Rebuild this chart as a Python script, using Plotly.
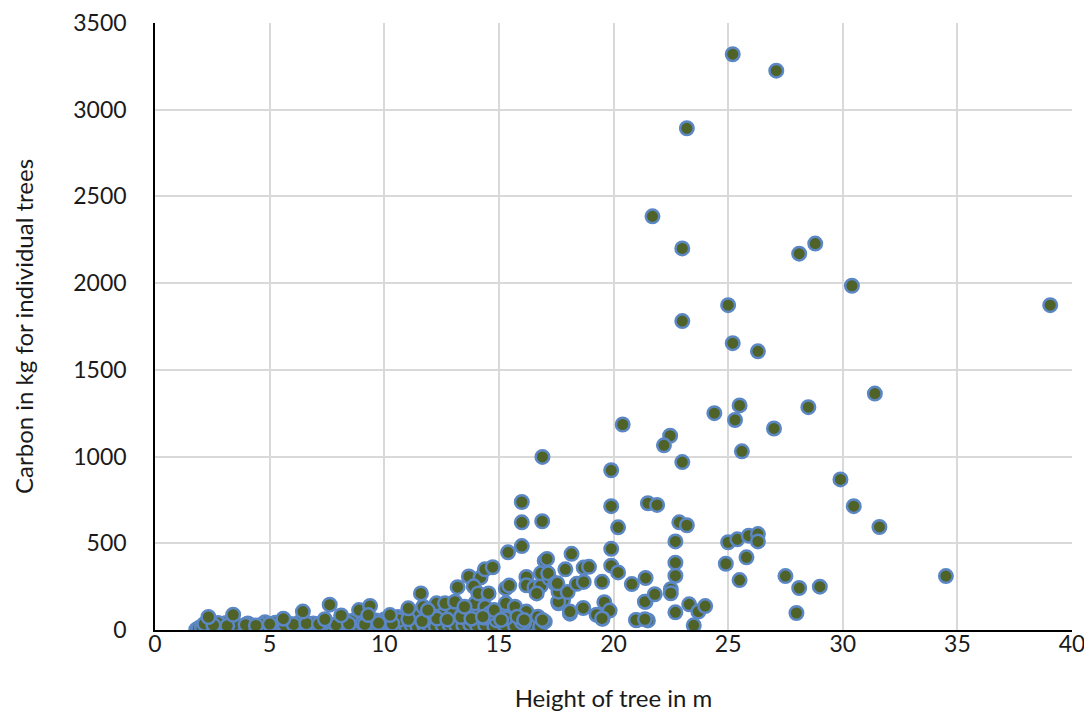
import plotly.graph_objects as go

# Tall / heavy trees
height_big = [25.2, 27.1, 23.2, 21.7, 23.0, 28.1, 28.8, 30.4, 39.05, 25.0, 23.0, 25.2, 26.3,
              31.4, 28.5, 25.5, 24.4, 25.3, 20.4, 22.47, 22.2, 27.0, 25.6, 23.0, 16.9, 19.9]
carbon_big = [3320, 3225, 2893, 2385, 2200, 2170, 2228, 1985, 1873, 1873, 1781, 1654, 1607,
              1363, 1285, 1295, 1250, 1211, 1185, 1120, 1065, 1162, 1030, 968, 998, 921]

# Medium trees
height_mid = [29.9, 30.48, 31.6, 34.5, 16.0, 16.0, 16.89, 21.5, 21.9, 19.9, 20.2, 22.87, 23.2,
              19.9, 22.7, 25.0, 25.4, 25.9, 26.3, 26.3, 24.9, 25.8, 25.5, 27.5, 28.1, 29.0,
              19.9, 20.2, 19.5, 20.8, 21.4, 22.7, 22.7, 22.5, 22.5, 21.8,
              15.4, 16.0, 18.17, 17.0, 17.1, 17.9, 18.7, 18.93, 13.69, 14.2, 14.39, 14.73,
              13.2, 13.9, 14.1, 14.55, 15.3, 15.45, 16.2, 16.2, 16.55, 16.83, 16.83, 17.2,
              17.15, 17.46, 17.6, 18.0, 18.4, 18.7, 16.65, 11.6, 17.55]
carbon_mid = [868, 714, 594, 311, 738, 621, 627, 731, 721, 714, 592, 621, 604,
              468, 511, 506, 523, 544, 553, 511, 382, 419, 288, 311, 242, 250,
              371, 332, 278, 265, 300, 388, 313, 235, 212, 206,
              448, 484, 439, 399, 410, 350, 360, 364, 309, 302, 350, 362,
              247, 252, 211, 211, 240, 256, 306, 258, 245, 254, 327, 298,
              327, 267, 221, 219, 266, 277, 211, 211, 269]

# Small trees (50-200 kg)
height_small = [27.98, 21.4, 19.6, 19.83, 19.52, 21.0, 21.5, 22.7, 23.3, 23.7, 24.0, 23.5,
                17.6, 17.8, 18.1, 18.68, 19.26, 19.5, 20.98, 21.37, 21.37, 17.0, 17.59, 18.1,
                2.33, 3.41, 6.45, 7.62, 8.12, 8.9, 9.38, 5.6, 7.41, 9.3, 10.25,
                13.96, 14.4, 14.6, 12.28, 12.65, 13.08, 13.5, 11.05, 11.7, 11.9,
                14.8, 15.3, 15.7, 16.2, 16.7, 16.9, 15.1, 14.3, 15.8, 16.1]
carbon_small = [98, 163, 160, 112, 65, 56, 55, 102, 148, 106, 138, 27,
                154, 173, 94, 127, 88, 67, 58, 62, 163, 48, 163, 106,
                75, 88, 106, 146, 84, 115, 139, 65, 62, 86, 86,
                154, 134, 96, 154, 154, 163, 134, 125, 134, 115,
                115, 154, 134, 106, 77, 58, 58, 77, 77, 58]

# Saplings near zero
height_low = [1.8, 1.95, 2.1, 2.25, 2.45, 2.6, 2.8, 3.05, 3.2, 3.45, 3.6, 3.85, 4.1, 4.3, 4.6,
              4.85, 5.05, 5.35, 5.6, 5.8, 6.1, 6.35, 6.55, 6.85, 7.1, 7.3, 7.6, 7.85, 8.05, 8.35,
              8.6, 8.8, 9.1, 9.35, 9.6, 9.85, 10.1, 10.3, 10.6, 10.85, 11.1, 11.3, 11.6, 11.85,
              12.1, 12.4, 12.7, 13.0, 13.3, 13.6, 13.9, 14.2, 14.6, 15.0, 15.5, 15.96, 16.4,
              2.0, 2.2, 2.5, 2.9, 3.3, 3.7, 4.2, 4.5, 4.9, 5.2, 5.5, 5.9, 6.2, 6.7, 7.0, 7.3,
              7.7, 8.0, 8.4, 8.7, 9.0, 9.5, 9.8, 10.2, 10.5, 10.8, 11.2, 11.5, 11.9, 12.2, 12.5,
              12.9, 13.2, 13.6, 13.9, 14.3, 14.7, 15.1, 15.4, 15.8, 16.3, 16.8, 10.4, 10.6, 10.9,
              11.3, 12.0, 12.6, 9.2, 8.2, 6.5, 4.8, 3.1, 12.4, 13.0, 13.4, 14.0, 14.5, 15.0,
              15.6, 11.4, 10.0]
carbon_low = [2, 4, 1, 6, 3, 5, 2, 8, 4, 3, 6, 2, 5, 7, 3,
              4, 6, 2, 5, 3, 8, 4, 2, 6, 5, 3, 7, 4, 2, 9,
              5, 3, 6, 4, 8, 2, 5, 7, 3, 6, 4, 9, 5, 3,
              7, 10, 6, 8, 11, 5, 7, 9, 6, 12, 13, 16, 19,
              18, 30, 22, 15, 25, 20, 28, 18, 32, 24, 20, 35, 26, 30, 22, 40,
              28, 35, 25, 42, 30, 38, 45, 33, 50, 40, 55, 35, 48, 60, 42,
              55, 70, 48, 62, 40, 58, 30, 45, 25, 35, 20, 70, 75, 72,
              80, 88, 95, 60, 55, 48, 45, 40, 105, 100, 88, 110, 85, 95,
              110, 95, 60]

# More saplings filling the dense band
height_low2 = [1.9, 2.05, 2.35, 2.7, 2.95, 3.35, 3.75, 4.0, 4.45, 4.75, 5.15, 5.45, 5.7, 6.0,
               6.25, 6.45, 6.75, 6.95, 7.2, 7.5, 7.75, 7.95, 8.25, 8.5, 8.75, 8.95, 9.25, 9.45,
               9.7, 9.95, 10.2, 10.45, 10.7, 10.95, 11.2, 11.45, 11.75, 11.95, 12.25, 12.55,
               12.85, 13.15, 13.45, 13.75, 14.05, 14.4, 14.8, 15.25, 15.7, 16.1,
               2.15, 2.75, 3.5, 4.05, 4.65, 5.25, 5.75, 6.3, 6.9, 7.45, 8.15, 8.55, 9.05, 9.65,
               10.05, 10.65, 11.05, 11.65, 12.3, 12.75, 13.35, 13.8, 14.35, 14.9, 15.3, 16.0,
               2.55, 3.15, 3.95, 4.4, 5.0, 5.65, 6.05, 6.6, 7.15, 7.9, 8.45, 9.15, 9.75, 10.35]
carbon_low2 = [10, 14, 9, 12, 8, 11, 13, 9, 15, 10, 12, 14, 10, 16,
               12, 15, 11, 18, 13, 10, 16, 14, 12, 18, 15, 20, 13, 17,
               22, 15, 19, 24, 16, 21, 26, 18, 23, 28, 20, 25,
               30, 22, 27, 32, 24, 28, 22, 30, 26, 40,
               35, 40, 32, 38, 30, 42, 36, 44, 38, 48, 45, 52, 40, 55,
               45, 58, 62, 50, 66, 60, 75, 65, 70, 55, 68, 45,
               28, 24, 30, 26, 34, 28, 32, 38, 34, 30, 36, 32, 40, 36]

height = height_low + height_low2 + height_small + height_mid + height_big
carbon = carbon_low + carbon_low2 + carbon_small + carbon_mid + carbon_big

x_ticks = [0, 5, 10, 15, 20, 25, 30, 35, 40]
y_ticks = [0, 500, 1000, 1500, 2000, 2500, 3000, 3500]

FONT = "Lato, 'Open Sans', sans-serif"

fig = go.Figure(go.Scatter(
    x=height, y=carbon, mode="markers",
    marker=dict(size=13.5, color="#4F6228", line=dict(color="#5B87C5", width=2.5)),
    showlegend=False, hoverinfo="x+y",
))

fig.update_layout(
    width=1082, height=704,
    margin=dict(l=147, r=18, t=15, b=82),
    paper_bgcolor="white", plot_bgcolor="white",
    font=dict(family=FONT, size=23, color="#1a1a1a"),
)
fig.update_xaxes(
    range=[0, 40], tickvals=x_ticks, ticktext=[str(v) for v in x_ticks],
    showgrid=True, gridcolor="#D9D9D9", gridwidth=1.5,
    showline=True, linecolor="black", linewidth=1.5,
    zeroline=False, ticks="", ticklabelstandoff=-7, automargin=False,
    ticklabeloverflow="allow",
    title=dict(text="Height of tree in m", font=dict(size=24), standoff=43),
)
fig.update_yaxes(
    range=[0, 3500], tickvals=y_ticks, ticktext=[str(v) for v in y_ticks],
    showgrid=True, gridcolor="#D9D9D9", gridwidth=1.5,
    showline=True, linecolor="black", linewidth=1.5,
    zeroline=False, ticks="", ticklabelstandoff=22, automargin=False,
    title=dict(text="Carbon in kg for individual trees", font=dict(size=24), standoff=33),
)

fig.write_html("out.html")
